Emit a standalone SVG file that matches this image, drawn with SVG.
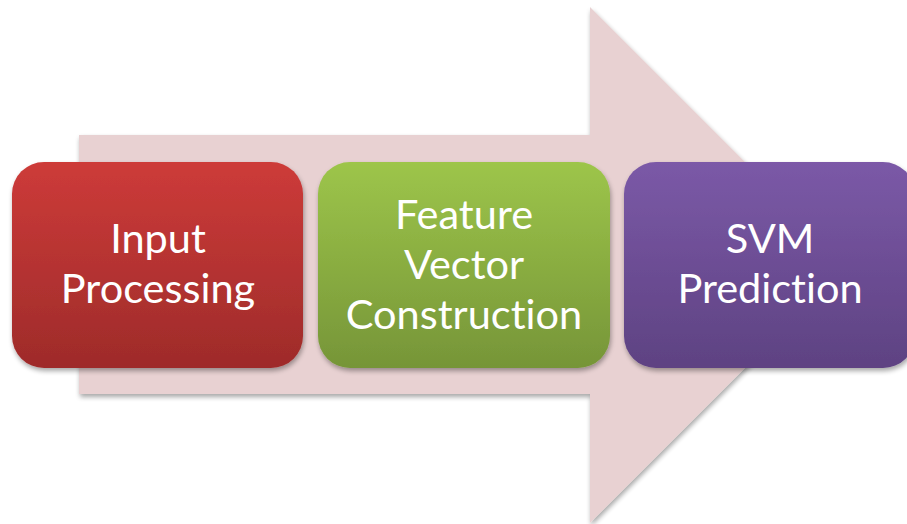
<svg xmlns="http://www.w3.org/2000/svg" width="907" height="524" viewBox="0 0 907 524">
  <defs>
    <linearGradient id="gRed" x1="0" y1="0" x2="0" y2="1">
      <stop offset="0" stop-color="#CD3B39"/>
      <stop offset="1" stop-color="#9E2B2A"/>
    </linearGradient>
    <linearGradient id="gGreen" x1="0" y1="0" x2="0" y2="1">
      <stop offset="0" stop-color="#9DC54A"/>
      <stop offset="1" stop-color="#769538"/>
    </linearGradient>
    <linearGradient id="gPurple" x1="0" y1="0" x2="0" y2="1">
      <stop offset="0" stop-color="#7B59A7"/>
      <stop offset="1" stop-color="#5E4282"/>
    </linearGradient>
    <filter id="shadow" x="-10%" y="-10%" width="125%" height="130%">
      <feGaussianBlur in="SourceAlpha" stdDeviation="2.5"/>
      <feOffset dx="1" dy="3" result="b"/>
      <feComponentTransfer><feFuncA type="linear" slope="0.35"/></feComponentTransfer>
      <feMerge><feMergeNode/><feMergeNode in="SourceGraphic"/></feMerge>
    </filter>
  </defs>
  <style>
    .lbl { font-family: Lato, "Open Sans", sans-serif; font-size: 41.5px; fill: #FFFFFF; text-anchor: middle; font-variant-ligatures: none; }
  </style>
  <rect width="907" height="524" fill="#FFFFFF"/>

  <!-- big background arrow -->
  <g id="connectors">
    <path d="M79,135 H590 V7 L848,265 L590,523 V394 H79 Z" fill="#E8D1D2" filter="url(#shadow)"/>
  </g>

  <g id="node-input">
    <rect x="12" y="162" width="291" height="206" rx="32" fill="url(#gRed)" filter="url(#shadow)"/>
    <text class="lbl" x="158" y="253">Input</text>
    <text class="lbl" x="158" y="303">Processing</text>
  </g>

  <g id="node-feature">
    <rect x="318" y="162" width="292" height="206" rx="32" fill="url(#gGreen)" filter="url(#shadow)"/>
    <text class="lbl" x="464" y="229">Feature</text>
    <text class="lbl" x="464" y="279">Vector</text>
    <text class="lbl" x="464" y="329">Construction</text>
  </g>

  <g id="node-svm">
    <rect x="624" y="162" width="291" height="206" rx="32" fill="url(#gPurple)" filter="url(#shadow)"/>
    <text class="lbl" x="770" y="253">SVM</text>
    <text class="lbl" x="770" y="303">Prediction</text>
  </g>
</svg>
